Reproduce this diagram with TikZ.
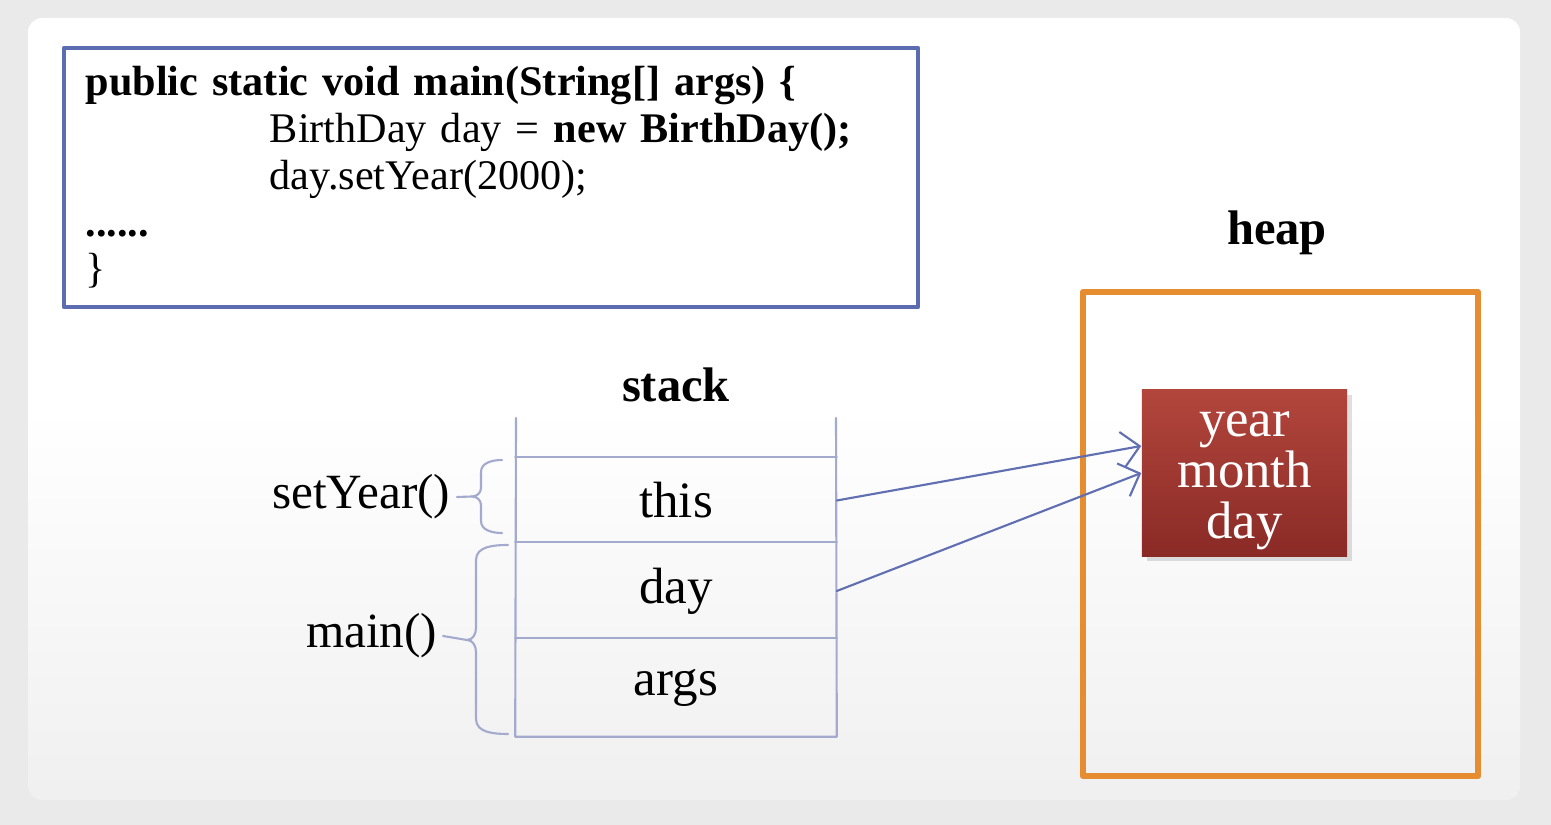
\documentclass[tikz,border=0pt]{standalone}
\usepackage{fontspec}
\setmainfont{Liberation Serif}
\usetikzlibrary{arrows.meta,shadows}
\definecolor{codeblue}{RGB}{92,108,176}
\definecolor{heaporange}{RGB}{229,141,48}
\definecolor{stackline}{RGB}{164,170,206}
\definecolor{arrowblue}{RGB}{96,110,178}
\definecolor{objtop}{RGB}{178,70,60}
\definecolor{objbottom}{RGB}{138,42,38}
\definecolor{slidegray}{RGB}{234,234,234}
\begin{document}
\begin{tikzpicture}[x=0.01cm,y=-0.01cm,>={Straight Barb[length=5pt,width=10pt]}, line join=round, line cap=round,
	cell/.style={minimum width=3.2cm,inner sep=0pt,font=\fontsize{14.5}{16}\selectfont},
	stackwall/.style={stackline,line width=0.6pt},
	fbrace/.style={stackline,line width=0.6pt},
	ref/.style={->,arrowblue,line width=0.6pt},
	title/.style={font=\fontsize{13.8}{15}\selectfont\bfseries},
	label/.style={anchor=east,inner sep=0pt,font=\fontsize{14}{16}\selectfont}]
	% slide background
	\fill[slidegray] (0,0) rectangle (1551,825);
	\shade[rounded corners=4pt,top color=white,bottom color=gray!12,middle color=white] (28,18) rectangle (1520,800);
	\useasboundingbox (0,0) rectangle (1551,825);
	% code
	\node[draw=codeblue,line width=1.1pt,text width=8.1cm,inner xsep=0.22cm,minimum height=2.59cm,align=left,
		font=\fontsize{12}{13.3}\selectfont] (code) at (491,177.5)
		{\textbf{public static void main(String[] args) \{}\\
		\hspace*{1.84cm}BirthDay day = \textbf{new BirthDay();}\\
		\hspace*{1.84cm}day.setYear(2000);\\
		\textbf{......}\\
		\}};
	% stack
	\node[title] (stacklbl) at (676,385) {stack};
	\node[cell,minimum height=0.85cm] (this) at (676,500.5) {this};
	\node[cell,minimum height=0.96cm] (day) at (676,591) {day};
	\node[cell,minimum height=0.97cm] (args) at (676,687.5) {args};
	\coordinate (stl) at (516,418);
	\coordinate (str) at (836,418);
	\draw[stackwall] (stl) -- (args.south west) -- (args.south east) -- (str);
	\draw[stackwall] (this.north west) -- (this.north east) (day.north west) -- (day.north east)
		(args.north west) -- (args.north east);
	% frames
	\coordinate (settip) at (472,496.5);
	\coordinate (maintip) at (467,640);
	\draw[fbrace] (502,460) to[out=180,in=90] (481,472) -- (481,488) to[out=-90,in=0] (settip)
		to[out=0,in=90] (481,505) -- (481,521) to[out=-90,in=180] (502,533);
	\draw[fbrace] (508,545) to[out=180,in=90] (476,560) -- (476,628) to[out=-90,in=0] (maintip)
		to[out=0,in=90] (476,652) -- (476,719) to[out=-90,in=180] (508,734);
	\node[label] (setyear) at (451,497) {setYear()};
	\node[label] (main) at (438,636) {main()};
	\draw[stackwall] (setyear.east) ++(6,0) -- (settip);
	\draw[stackwall] (main.east) ++(5,0) -- (maintip);
	% heap
	\node[title] (heaplbl) at (1277,233) {heap};
	\node[draw=heaporange,line width=1.7pt,minimum width=3.95cm,minimum height=4.84cm] (heap) at (1280.5,534) {};
	\node[top color=objtop,bottom color=objbottom,minimum width=2.05cm,minimum height=1.66cm,
		drop shadow={opacity=0.25,shadow xshift=1.5pt,shadow yshift=-1.5pt}] (obj) at (1244.5,473) {};
	\node[text=white,align=center,font=\fontsize{15}{14.5}\selectfont] (fields) at ([yshift=-0.08cm]obj.center)
		{year\\month\\day};
	% references
	\draw[ref] (this.east) -- ([yshift=0.27cm]obj.west);
	\draw[ref] (day.east) -- (obj.west);
\end{tikzpicture}
\end{document}
